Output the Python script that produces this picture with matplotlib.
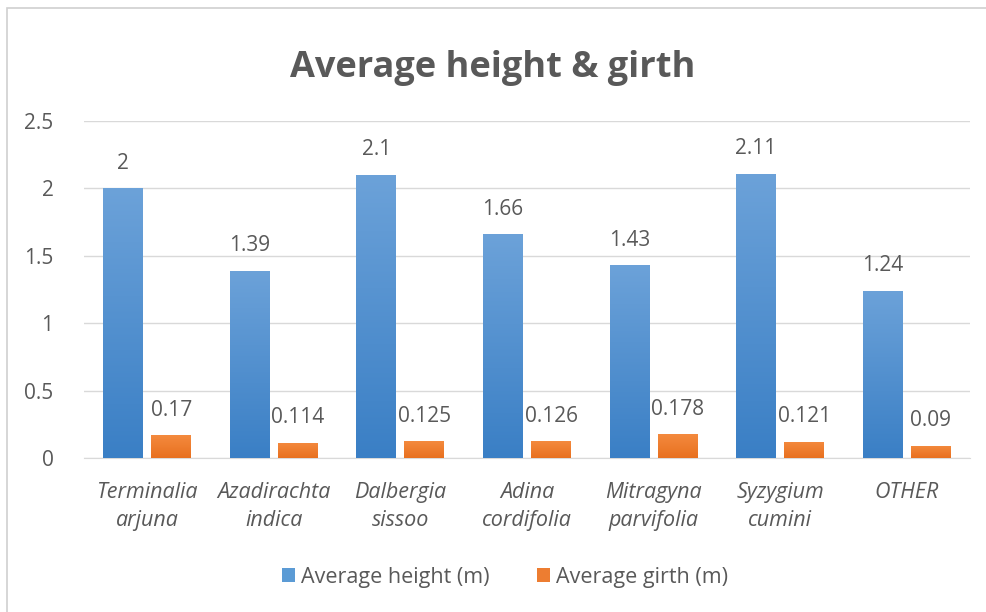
import matplotlib
matplotlib.use("Agg")
import matplotlib.pyplot as plt
import numpy as np
from matplotlib.patches import Rectangle
from matplotlib.colors import LinearSegmentedColormap

categories = ["Terminalia\narjuna", "Azadirachta\nindica", "Dalbergia\nsissoo",
              "Adina\ncordifolia", "Mitragyna\nparvifolia", "Syzygium\ncumini", "OTHER"]
height = [2, 1.39, 2.1, 1.66, 1.43, 2.11, 1.24]
girth = [0.17, 0.114, 0.125, 0.126, 0.178, 0.121, 0.09]
height_labels = ["2", "1.39", "2.1", "1.66", "1.43", "2.11", "1.24"]
girth_labels = ["0.17", "0.114", "0.125", "0.126", "0.178", "0.121", "0.09"]

plt.rcParams['font.family'] = ['Open Sans', 'DejaVu Sans']
gray = "#595959"

fig = plt.figure(figsize=(9.86, 6.12), dpi=100)
fig.patches.append(Rectangle((7/986, -0.01), 1, 1 - 8/612 + 0.01, transform=fig.transFigure,
                             fill=False, edgecolor="#d0d0d0", linewidth=1.2))
ax = fig.add_axes([84/986, 1 - 458/612, (970 - 84)/986, (458 - 121)/612])

x = np.arange(len(categories))
w = 0.316
off = 0.19
b1 = ax.bar(x - off, height, w, color="#5B9BD5", label="Average height (m)", zorder=3)
b2 = ax.bar(x + off, girth, w, color="#ED7D31", label="Average girth (m)", zorder=3)

cm_blue = LinearSegmentedColormap.from_list("b", ["#3A7FC5", "#6CA2D9"])
cm_orange = LinearSegmentedColormap.from_list("o", ["#E8701F", "#F48A3E"])
grad = np.linspace(0, 1, 256).reshape(-1, 1)
for bars, cmap in ((b1, cm_blue), (b2, cm_orange)):
    for p in bars:
        x0, y0 = p.get_x(), p.get_y()
        im = ax.imshow(grad, cmap=cmap, origin="lower", aspect="auto",
                       extent=(x0, x0 + p.get_width(), y0, y0 + p.get_height()), zorder=3.5)
        im.set_clip_path(p)

dy = 25 / 337 * 2.5
for xi, v, t in zip(x, height, height_labels):
    ax.text(xi - off, v + dy, t, ha="center", va="center", fontsize=15, color=gray)
for xi, v, t in zip(x, girth, girth_labels):
    ax.text(xi + off, v + dy, t, ha="center", va="center", fontsize=15, color=gray)

ax.set_ylim(0, 2.5)
ax.set_xlim(-0.5, len(categories) - 0.5)
ax.set_yticks([0, 0.5, 1, 1.5, 2, 2.5])
ax.set_yticklabels(["0", "0.5", "1", "1.5", "2", "2.5"])
ax.set_xticks(x)
ax.set_xticklabels(categories, fontstyle="italic", fontsize=15.5, color=gray, linespacing=1.45)
ax.tick_params(axis="y", labelsize=15, colors=gray, length=0, pad=22)
ax.tick_params(axis="x", length=0, pad=17)
ax.yaxis.grid(True, color="#d9d9d9", linewidth=1, zorder=0)
for s in ["top", "right", "left"]:
    ax.spines[s].set_visible(False)
ax.spines["bottom"].set_color("#d9d9d9")

fig.text(493/986, 1 - 68/612, "Average height & girth", ha="center", va="center",
         fontsize=26, fontweight="bold", color=gray)

fig.legend(handles=[b1, b2], loc="center", bbox_to_anchor=(505/986, 1 - 577/612),
           ncol=2, frameon=False, fontsize=15.5, labelcolor=gray,
           handlelength=0.6, handleheight=0.6, handletextpad=0.3, columnspacing=2.2)

fig.savefig("out.png", dpi=100)
